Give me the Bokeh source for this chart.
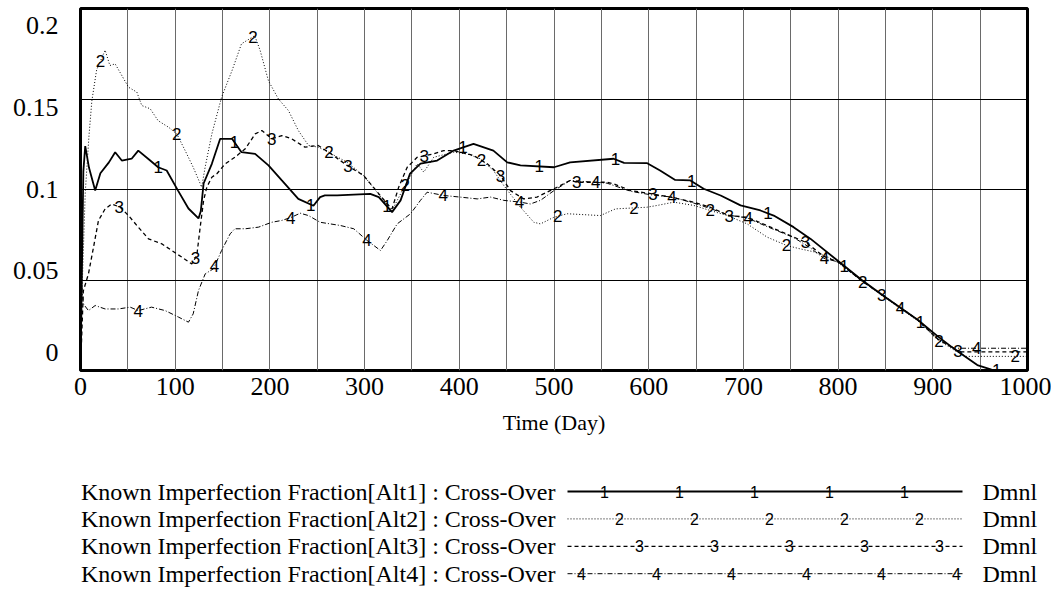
import numpy as np
from bokeh.plotting import figure
from bokeh.models import FixedTicker, Range1d, Label
from bokeh.layouts import column
from bokeh.core.properties import value
from bokeh.embed import file_html
from bokeh.resources import INLINE

# ---------------- data ----------------
t1 = [0, 3, 5, 9, 15.5, 21, 30, 36.6, 43.6, 54, 61, 73.6, 82, 91, 103, 114, 124.6, 127, 130, 138.7,
      147.5, 160, 170, 184.4, 198.5, 212.6, 230, 246, 253, 258, 271, 306, 315, 329, 338, 348, 359,
      376.6, 394, 415, 436, 450.6, 464.6, 500, 517, 563, 574, 598, 612, 628, 644, 658, 676, 697,
      718, 732, 753, 771, 800, 825, 850, 884, 905, 925, 947, 962, 970, 1000]
v1 = [0, 0.110, 0.124, 0.112, 0.0994, 0.109, 0.115, 0.1206, 0.116, 0.117, 0.1215, 0.116, 0.1123,
      0.1105, 0.0994, 0.0895, 0.084, 0.088, 0.1033, 0.1142, 0.128, 0.128, 0.1206, 0.1197, 0.1133,
      0.105, 0.0948, 0.091, 0.0958, 0.0967, 0.0967, 0.0976, 0.0958, 0.0875, 0.094, 0.1088, 0.1143,
      0.116, 0.1215, 0.1252, 0.1215, 0.115, 0.1133, 0.1123, 0.115, 0.117, 0.1147, 0.1146, 0.1105,
      0.1053, 0.105, 0.1004, 0.0967, 0.0912, 0.0884, 0.0856, 0.0792, 0.0727, 0.0605, 0.0500,
      0.0405, 0.0280, 0.0190, 0.0110, 0.0030, 0.0005, 0, 0]

t2 = [0, 2, 5, 9, 12, 17, 26, 31, 36.6, 50.7, 59.5, 64.7, 73.6, 82, 93, 101.7, 110.5, 119, 128,
      131.6, 138.7, 149, 160, 170, 184, 189.7, 198.5, 209, 219.6, 230, 240.8, 251, 262, 281.6, 299,
      320, 329, 338, 355.5, 362.5, 373, 394, 408, 422, 436, 447, 464.6, 478.7, 485.7, 500, 514,
      549, 565, 598, 609, 626.5, 647.6, 665, 683, 704, 725, 746, 760, 775, 790, 800, 825, 850,
      884, 905, 925, 935, 1000]
v2 = [0, 0.05, 0.098, 0.13, 0.149, 0.166, 0.177, 0.1685, 0.1694, 0.1565, 0.1538, 0.1464, 0.1446,
      0.138, 0.1344, 0.1307, 0.1215, 0.1123, 0.1013, 0.1123, 0.1307, 0.151, 0.1657, 0.1805, 0.185,
      0.1768, 0.160, 0.150, 0.1436, 0.1326, 0.1243, 0.1234, 0.1206, 0.115, 0.1077, 0.094, 0.0884,
      0.0976, 0.1142, 0.1096, 0.1178, 0.1206, 0.1197, 0.117, 0.1105, 0.1022, 0.0902, 0.0819,
      0.081, 0.0847, 0.0866, 0.0856, 0.0893, 0.0902, 0.0912, 0.093, 0.0912, 0.0884, 0.0856,
      0.081, 0.0737, 0.069, 0.0672, 0.0655, 0.0625, 0.0595, 0.0495, 0.0400, 0.0275, 0.0170,
      0.0105, 0.0078, 0.0078]

t3 = [0, 3, 8.4, 13.7, 19, 26, 33, 42, 50.7, 61, 71.8, 85.8, 96.4, 107, 117.5, 122.8, 126.4, 130,
      133.4, 138.7, 144, 152.8, 163, 174, 184.5, 191.5, 202, 212.6, 223, 237, 251, 262, 281.6, 299,
      324, 329, 336, 345, 355.5, 373, 383.6, 394, 415, 429.5, 443.5, 454, 468, 482, 500, 517, 524,
      546, 556, 563, 581, 603.6, 623, 647.6, 665, 684.6, 704, 725, 753, 765.6, 785, 800, 825, 850,
      884, 905, 928, 1000]
v3 = [0, 0.044, 0.0534, 0.068, 0.0829, 0.0893, 0.092, 0.0902, 0.0856, 0.0792, 0.0727, 0.070,
      0.0663, 0.0626, 0.0589, 0.0635, 0.0792, 0.094, 0.1013, 0.1068, 0.1087, 0.1142, 0.1178,
      0.1225, 0.1307, 0.1326, 0.128, 0.1298, 0.128, 0.1234, 0.1243, 0.1206, 0.1133, 0.1077,
      0.092, 0.0893, 0.1013, 0.1123, 0.1178, 0.1197, 0.1215, 0.1215, 0.1188, 0.1142, 0.1077,
      0.0994, 0.0948, 0.0958, 0.1004, 0.105, 0.104, 0.104, 0.104, 0.1031, 0.0994, 0.0976, 0.0958,
      0.093, 0.0902, 0.0856, 0.0847, 0.0801, 0.0737, 0.0709, 0.0630, 0.0600, 0.0495, 0.0405,
      0.028, 0.0175, 0.0103, 0.0103]

t4 = [0, 1, 3, 8.4, 15.5, 26, 40, 52.5, 61, 75, 89.4, 103.5, 114, 119, 124.6, 131.7, 140.4, 149,
      158, 163, 174, 188, 202, 212.6, 222, 232, 240.8, 253, 274.5, 288.6, 302.7, 316.8, 323.9,
      334.4, 348.5, 359, 366, 383.6, 401, 419, 433, 447, 464.6, 475, 485.7, 500, 517, 542, 556,
      581, 603, 625, 647.6, 665, 684.6, 704, 725, 753, 770, 785, 800, 825, 850, 884, 905, 923, 1000]
v4 = [0, 0.048, 0.0368, 0.0331, 0.0359, 0.034, 0.034, 0.035, 0.0331, 0.035, 0.0331, 0.0295,
      0.0267, 0.0313, 0.0442, 0.0534, 0.0562, 0.0663, 0.0755, 0.0783, 0.0783, 0.0792, 0.0819,
      0.0829, 0.0845, 0.0869, 0.0856, 0.0819, 0.0801, 0.0783, 0.0718, 0.0663, 0.0718, 0.081,
      0.0866, 0.094, 0.0985, 0.0967, 0.0958, 0.0948, 0.0958, 0.094, 0.093, 0.092, 0.094, 0.0994,
      0.105, 0.104, 0.1035, 0.099, 0.097, 0.0958, 0.0925, 0.0895, 0.0858, 0.0843, 0.0795, 0.0735,
      0.0680, 0.0620, 0.0600, 0.0495, 0.0405, 0.0280, 0.0175, 0.0123, 0.0123]

x_ticks = [0, 100, 200, 300, 400, 500, 600, 700, 800, 900, 1000]
y_ticks = [0, 0.05, 0.1, 0.15, 0.2]
y_labels = ["0", "0.05", "0.1", "0.15", "0.2"]

series_names = ["Known Imperfection Fraction[Alt1] : Cross-Over",
                "Known Imperfection Fraction[Alt2] : Cross-Over",
                "Known Imperfection Fraction[Alt3] : Cross-Over",
                "Known Imperfection Fraction[Alt4] : Cross-Over"]
units = "Dmnl"
x_title = "Time (Day)"

# ---------------- styles / layout ----------------
SANS = value("Liberation Sans")
styles = [dict(line_dash="solid", line_width=1.8),
          dict(line_dash="1 2", line_width=1.0),
          dict(line_dash="4 3", line_width=1.3),
          dict(line_dash="5 2 1 2", line_width=1.0)]
label_start = [82, 21, 41, 61]
label_step = 80.5

W = 1051
BL, FW = 80, 947
BR = W - BL - FW
BT, FH = 8, 362
TOP_H = 438
LEG_H = 594 - TOP_H

p = figure(width=W, height=TOP_H, x_range=Range1d(0, 1000), y_range=Range1d(0, 0.2),
           output_backend="svg", toolbar_location=None,
           min_border_left=BL, min_border_right=BR, min_border_top=BT,
           min_border_bottom=TOP_H - BT - FH)
p.outline_line_color = "black"
p.outline_line_width = 3
p.background_fill_color = "white"

p.xgrid.ticker = FixedTicker(ticks=list(np.arange(50, 1000, 50)))
p.xgrid.grid_line_color = "#6a6a6a"
p.xgrid.grid_line_width = 1
p.ygrid.ticker = FixedTicker(ticks=[0.05, 0.1, 0.15])
p.ygrid.grid_line_color = "black"
p.ygrid.grid_line_width = 1

for ax in (p.xaxis, p.yaxis):
    ax.axis_line_color = None
    ax.major_tick_line_color = None
    ax.minor_tick_line_color = None
    ax.major_tick_out = 0
    ax.major_tick_in = 0
    ax.minor_tick_out = 0
    ax.major_label_text_font = "Liberation Serif"
    ax.major_label_text_font_size = "26px"
    ax.major_label_text_color = "black"

p.xaxis.ticker = FixedTicker(ticks=x_ticks)
p.xaxis.major_label_standoff = 7
p.xaxis.axis_label = x_title
p.xaxis.axis_label_text_font = "Liberation Serif"
p.xaxis.axis_label_text_font_size = "22px"
p.xaxis.axis_label_text_font_style = "normal"
p.xaxis.axis_label_text_color = "black"
p.xaxis.axis_label_standoff = 12

# Vensim spreads its y labels inside the range
y_pos = [round(0.0099 + v * 0.9035, 5) for v in y_ticks]
p.yaxis.ticker = FixedTicker(ticks=y_pos)
p.yaxis.major_label_overrides = {pos: lab for pos, lab in zip(y_pos, y_labels)}
p.yaxis.major_label_standoff = 22

for k, (tt, vv) in enumerate([(t1, v1), (t2, v2), (t3, v3), (t4, v4)]):
    p.line(tt, vv, line_color="black", **styles[k])
    lt = np.arange(label_start[k], 995, label_step)
    lv = np.interp(lt, tt, vv)
    p.text(x=lt, y=lv, text=[str(k + 1)] * len(lt), text_align="center",
           text_baseline="middle", text_font=SANS, text_font_size="17px", text_color="black")

# ---------------- legend figure (coordinates = page pixels) ----------------
leg = figure(width=W, height=LEG_H,
             x_range=Range1d(0, W), y_range=Range1d(TOP_H + LEG_H, TOP_H),
             output_backend="svg", toolbar_location=None,
             min_border_left=0, min_border_right=0, min_border_top=0, min_border_bottom=0)
if "frame_align" in leg.properties():
    leg.frame_align = False
    p.frame_align = False
leg.axis.visible = False
leg.grid.visible = False
leg.outline_line_color = None

row0, row_dy = 491, 27.4
line_x0, line_x1 = 567, 962
mark_start = [37, 52, 72, 14]
mark_step = 75
for k in range(4):
    ry = row0 + k * row_dy
    leg.add_layout(Label(x=555, y=ry, text=series_names[k], text_align="right",
                         text_baseline="middle", text_font="Liberation Serif",
                         text_font_size="24px", text_color="black"))
    leg.line([line_x0, line_x1], [ry, ry], line_color="black", **styles[k])
    mx = np.arange(line_x0 + mark_start[k], line_x1 + 1, mark_step)
    leg.text(x=mx, y=[ry] * len(mx), text=[str(k + 1)] * len(mx), text_align="center",
             text_baseline="middle", text_font=SANS, text_font_size="16px", text_color="black")
    leg.add_layout(Label(x=982, y=ry, text=units, text_align="left",
                         text_baseline="middle", text_font="Liberation Serif",
                         text_font_size="24px", text_color="black"))

layout = column(p, leg, spacing=0)
open("out.html", "w").write(file_html(layout, INLINE))
